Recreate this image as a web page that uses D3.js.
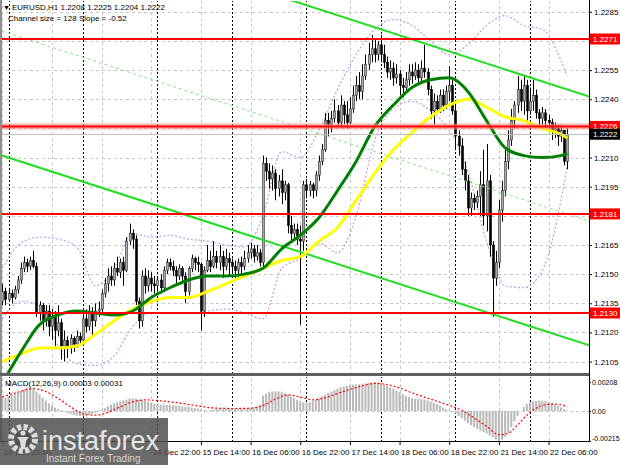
<!DOCTYPE html>
<html><head><meta charset="utf-8">
<script src="https://cdn.jsdelivr.net/npm/d3@7"></script>
<style>body{margin:0;background:#fff}svg{display:block}text{font-family:"Liberation Sans",Arial,sans-serif}</style>
</head><body><svg id="c" width="620" height="465"></svg>
<script>
// ---------- DATA ----------
const barOpen = [
1.2136,1.2141,1.2137,1.2140,1.2138,1.2142,1.2147,1.2153,1.2156,1.2154,
1.2157,1.2154,1.2130,1.2134,1.2126,1.2131,1.2123,1.2128,1.2121,1.2125,
1.2113,1.2116,1.2112,1.2117,1.2114,1.2118,1.2116,1.2127,1.2123,1.2130,
1.2126,1.2131,1.2132,1.2140,1.2145,1.2149,1.2147,1.2153,1.2151,1.2156,
1.2152,1.2167,1.2171,1.2168,1.2136,1.2126,1.2149,1.2144,1.2148,1.2145,
1.2144,1.2147,1.2143,1.2152,1.2156,1.2154,1.2152,1.2149,1.2153,1.2149,
1.2141,1.2153,1.2158,1.2156,1.2155,1.2131,1.2152,1.2157,1.2154,1.2159,
1.2156,1.2159,1.2154,1.2158,1.2156,1.2154,1.2152,1.2156,1.2154,1.2158,
1.2161,1.2163,1.2159,1.2161,1.2156,1.2207,1.2203,1.2199,1.2202,1.2194,
1.2198,1.2192,1.2196,1.2175,1.2171,1.2173,1.2168,1.2167,1.2196,1.2193,
1.2196,1.2193,1.2201,1.2208,1.2214,1.2229,1.2227,1.2230,1.2234,1.2228,
1.2237,1.2232,1.2228,1.2235,1.2242,1.2247,1.2244,1.2252,1.2258,1.2263,
1.2266,1.2263,1.2268,1.2263,1.2259,1.2254,1.2256,1.2251,1.2253,1.2247,
1.2246,1.2250,1.2254,1.2252,1.2255,1.2251,1.2256,1.2254,1.2245,1.2234,
1.2239,1.2235,1.2242,1.2237,1.2244,1.2247,1.2234,1.2221,1.2216,1.2204,
1.2198,1.2184,1.2189,1.2187,1.2190,1.2196,1.2180,1.2198,1.2165,1.2148,
1.2156,1.2183,1.2193,1.2208,1.2219,1.2229,1.2237,1.2245,1.2239,1.2247,
1.2234,1.2239,1.2242,1.2233,1.2230,1.2233,1.2229,1.2228,1.2224,1.2225,
1.2221,1.2224,1.2208];
const barHigh = [
1.2145,1.2143,1.2143,1.2142,1.2144,1.2149,1.2156,1.2159,1.2158,1.2159,
1.2162,1.2156,1.2136,1.2135,1.2134,1.2134,1.2132,1.2131,1.2134,1.2127,
1.2121,1.2118,1.2119,1.2118,1.2121,1.2120,1.2130,1.2132,1.2134,1.2133,
1.2135,1.2136,1.2142,1.2148,1.2153,1.2154,1.2156,1.2159,1.2158,1.2159,
1.2169,1.2176,1.2173,1.2170,1.2138,1.2152,1.2153,1.2152,1.2151,1.2149,
1.2149,1.2150,1.2154,1.2158,1.2158,1.2157,1.2154,1.2155,1.2154,1.2151,
1.2154,1.2160,1.2159,1.2159,1.2156,1.2154,1.2165,1.2162,1.2167,1.2162,
1.2165,1.2162,1.2163,1.2161,1.2158,1.2157,1.2158,1.2159,1.2162,1.2165,
1.2166,1.2165,1.2165,1.2163,1.2211,1.2210,1.2207,1.2206,1.2204,1.2201,
1.2204,1.2198,1.2197,1.2180,1.2176,1.2176,1.2175,1.2198,1.2199,1.2198,
1.2197,1.2203,1.2211,1.2217,1.2233,1.2233,1.2234,1.2240,1.2237,1.2242,
1.2239,1.2239,1.2241,1.2247,1.2252,1.2254,1.2258,1.2263,1.2269,1.2273,
1.2271,1.2270,1.2273,1.2268,1.2262,1.2260,1.2259,1.2258,1.2255,1.2251,
1.2254,1.2258,1.2258,1.2259,1.2258,1.2260,1.2268,1.2256,1.2247,1.2243,
1.2242,1.2245,1.2245,1.2247,1.2257,1.2250,1.2237,1.2224,1.2220,1.2208,
1.2201,1.2192,1.2191,1.2193,1.2203,1.2214,1.2217,1.2201,1.2167,1.2162,
1.2188,1.2198,1.2214,1.2224,1.2235,1.2239,1.2252,1.2250,1.2252,1.2250,
1.2246,1.2250,1.2245,1.2235,1.2236,1.2235,1.2232,1.2230,1.2228,1.2227,
1.2227,1.2224,1.2225];
const barLow = [
1.2134,1.2134,1.2136,1.2135,1.2137,1.2140,1.2145,1.2151,1.2151,1.2152,
1.2153,1.2128,1.2126,1.2121,1.2123,1.2118,1.2116,1.2113,1.2118,1.2106,
1.2105,1.2107,1.2109,1.2110,1.2112,1.2113,1.2114,1.2120,1.2121,1.2118,
1.2123,1.2128,1.2130,1.2138,1.2141,1.2144,1.2144,1.2149,1.2148,1.2144,
1.2151,1.2165,1.2163,1.2134,1.2122,1.2123,1.2140,1.2141,1.2141,1.2140,
1.2141,1.2140,1.2141,1.2150,1.2152,1.2149,1.2145,1.2147,1.2145,1.2135,
1.2139,1.2151,1.2152,1.2151,1.2121,1.2128,1.2151,1.2151,1.2153,1.2153,
1.2152,1.2148,1.2152,1.2149,1.2150,1.2148,1.2148,1.2150,1.2152,1.2156,
1.2158,1.2156,1.2157,1.2154,1.2154,1.2198,1.2194,1.2193,1.2188,1.2190,
1.2186,1.2188,1.2171,1.2166,1.2167,1.2165,1.2124,1.2162,1.2189,1.2190,
1.2189,1.2190,1.2198,1.2206,1.2213,1.2221,1.2223,1.2228,1.2226,1.2225,
1.2227,1.2225,1.2227,1.2233,1.2239,1.2240,1.2240,1.2250,1.2255,1.2259,
1.2259,1.2260,1.2259,1.2256,1.2251,1.2250,1.2247,1.2248,1.2242,1.2241,
1.2244,1.2247,1.2248,1.2250,1.2248,1.2249,1.2251,1.2242,1.2230,1.2227,
1.2233,1.2233,1.2234,1.2235,1.2239,1.2232,1.2214,1.2211,1.2201,1.2193,
1.2180,1.2180,1.2183,1.2184,1.2180,1.2175,1.2172,1.2159,1.2128,1.2144,
1.2153,1.2177,1.2190,1.2204,1.2216,1.2225,1.2233,1.2234,1.2232,1.2229,
1.2232,1.2234,1.2230,1.2226,1.2227,1.2225,1.2223,1.2219,1.2220,1.2216,
1.2218,1.2206,1.2204];
const barClose = [
1.2141,1.2137,1.2140,1.2138,1.2142,1.2147,1.2153,1.2156,1.2154,1.2157,
1.2154,1.2130,1.2134,1.2126,1.2131,1.2123,1.2128,1.2121,1.2125,1.2113,
1.2116,1.2112,1.2117,1.2114,1.2118,1.2116,1.2127,1.2123,1.2130,1.2126,
1.2131,1.2132,1.2140,1.2145,1.2149,1.2147,1.2153,1.2151,1.2156,1.2152,
1.2167,1.2171,1.2168,1.2136,1.2126,1.2149,1.2144,1.2148,1.2145,1.2144,
1.2147,1.2143,1.2152,1.2156,1.2154,1.2152,1.2149,1.2153,1.2149,1.2141,
1.2153,1.2158,1.2156,1.2155,1.2131,1.2152,1.2157,1.2154,1.2159,1.2156,
1.2159,1.2154,1.2158,1.2156,1.2154,1.2152,1.2156,1.2154,1.2158,1.2161,
1.2163,1.2159,1.2161,1.2156,1.2207,1.2203,1.2199,1.2202,1.2194,1.2198,
1.2192,1.2196,1.2175,1.2171,1.2173,1.2168,1.2167,1.2196,1.2193,1.2196,
1.2193,1.2201,1.2208,1.2214,1.2229,1.2227,1.2230,1.2234,1.2228,1.2237,
1.2232,1.2228,1.2235,1.2242,1.2247,1.2244,1.2252,1.2258,1.2263,1.2266,
1.2263,1.2268,1.2263,1.2259,1.2254,1.2256,1.2251,1.2253,1.2247,1.2246,
1.2250,1.2254,1.2252,1.2255,1.2251,1.2256,1.2254,1.2245,1.2234,1.2239,
1.2235,1.2242,1.2237,1.2244,1.2247,1.2234,1.2221,1.2216,1.2204,1.2198,
1.2184,1.2189,1.2187,1.2190,1.2196,1.2180,1.2198,1.2165,1.2148,1.2156,
1.2183,1.2193,1.2208,1.2219,1.2229,1.2237,1.2245,1.2239,1.2247,1.2234,
1.2239,1.2242,1.2233,1.2230,1.2233,1.2229,1.2228,1.2224,1.2225,1.2221,
1.2224,1.2208,1.2222];

// indicator samples (bar index -> value)
const maBars = [0,6,12,18,24,30,36,42,48,54,60,66,72,78,84,90,96,102,108,114,120,126,132,138,144,150,156,162,168,174,180,182];
const maGreen = [1.2094,1.2110,1.2124,1.2129,1.2131,1.2130,1.2129,1.2131,1.2138,1.2143,1.2147,1.2149,1.2149,1.2150,1.2153,1.2163,1.2170,1.2179,1.2193,1.2208,1.2226,1.2237,1.2246,1.2250,1.2251,1.2244,1.2229,1.2215,1.2211,1.2210,1.2211,1.2212];
const maYellow = [1.2105,1.2109,1.2112,1.2112,1.2113,1.2119,1.2126,1.2132,1.2136,1.2138,1.2138,1.2141,1.2145,1.2149,1.2153,1.2157,1.2159,1.2167,1.2174,1.2188,1.2202,1.2214,1.2223,1.2231,1.2237,1.2240,1.2236,1.2231,1.2229,1.2225,1.2222,1.2220];
const bbUpper = [1.2153,1.2166,1.2169,1.2168,1.2164,1.2144,1.2153,1.2171,1.2169,1.2170,1.2168,1.2167,1.2165,1.2164,1.2180,1.2213,1.2210,1.2224,1.2245,1.2263,1.2276,1.2281,1.2278,1.2270,1.2263,1.2268,1.2278,1.2283,1.2278,1.2276,1.2260,1.2252];
const bbLower = [1.2127,1.2136,1.2134,1.2113,1.2104,1.2103,1.2108,1.2123,1.2130,1.2130,1.2130,1.2131,1.2132,1.2130,1.2127,1.2153,1.2158,1.2166,1.2161,1.2180,1.2219,1.2235,1.2239,1.2234,1.2224,1.2203,1.2167,1.2144,1.2143,1.2152,1.2188,1.2206];

// regression channel: [bar, price] anchors
const channelUpper = [[0,1.2339],[182,1.2245]];
const channelMiddle = [[0,1.2275],[182,1.2181]];
const channelLower = [[0,1.2211],[182,1.2117]];

const levelPrices = [1.2271,1.2226,1.2181,1.2130];
const lastPrice = 1.2222;
const priceTicks = [1.2285,1.2255,1.2240,1.2210,1.2195,1.2165,1.2150,1.2135,1.2120,1.2105];
const gridPrices = [1.2285,1.2270,1.2255,1.2240,1.2225,1.2210,1.2195,1.2180,1.2165,1.2150,1.2135,1.2120,1.2105];
const daySeparators = [2,26,50,74,98,122,146,170];
const gridBars = [0,16,32,48,64,80,96,112,128,144,160,176];
const timeTickBars = [0,48,64,80,96,112,128,144,160,176];
const timeTickLabels = ["10 Dec 22:00","14 Dec 22:00","15 Dec 14:00","16 Dec 06:00","16 Dec 22:00","17 Dec 14:00","18 Dec 06:00","18 Dec 22:00","21 Dec 14:00","22 Dec 06:00"];

const macdHist = [
0.00090,0.00095,0.00105,0.00115,0.00125,0.00135,0.00145,0.00155,0.00165,0.00165,
0.00160,0.00140,0.00120,0.00095,0.00075,0.00055,0.00040,0.00025,0.00015,0.00005,
-0.00005,-0.00015,-0.00022,-0.00028,-0.00033,-0.00036,-0.00038,-0.00036,-0.00030,-0.00022,
-0.00012,-0.00003,0.00008,0.00020,0.00032,0.00045,0.00055,0.00062,0.00070,0.00076,
0.00082,0.00088,0.00092,0.00088,0.00082,0.00080,0.00072,0.00065,0.00058,0.00052,
0.00048,0.00046,0.00045,0.00044,0.00042,0.00040,0.00038,0.00035,0.00032,0.00030,
0.00028,0.00025,0.00022,0.00018,0.00012,0.00006,0.00004,0.00006,0.00010,0.00014,
0.00018,0.00017,0.00016,0.00018,0.00020,0.00019,0.00017,0.00018,0.00019,0.00021,
0.00024,0.00027,0.00032,0.00040,0.00110,0.00125,0.00135,0.00140,0.00142,0.00140,
0.00138,0.00130,0.00118,0.00105,0.00092,0.00080,0.00070,0.00062,0.00060,0.00062,
0.00070,0.00080,0.00092,0.00105,0.00118,0.00130,0.00140,0.00150,0.00160,0.00170,
0.00175,0.00180,0.00185,0.00188,0.00190,0.00192,0.00195,0.00197,0.00200,0.00203,
0.00208,0.00205,0.00200,0.00192,0.00182,0.00170,0.00158,0.00145,0.00135,0.00122,
0.00110,0.00100,0.00092,0.00088,0.00086,0.00084,0.00082,0.00076,0.00068,0.00060,
0.00050,0.00038,0.00026,0.00014,0.00005,-0.00005,-0.00018,-0.00035,-0.00052,-0.00070,
-0.00088,-0.00102,-0.00115,-0.00128,-0.00140,-0.00150,-0.00162,-0.00175,-0.00190,-0.00205,
-0.00215,-0.00205,-0.00185,-0.00155,-0.00115,-0.00075,-0.00035,0.00000,0.00030,0.00050,
0.00062,0.00070,0.00074,0.00075,0.00074,0.00070,0.00064,0.00056,0.00046,0.00036,
0.00025,0.00014,0.00003];
const signalBars = [0,5,10,14,18,22,26,30,34,38,42,46,50,56,62,68,74,80,84,88,92,96,100,104,108,112,116,120,124,128,132,136,140,144,148,152,156,160,163,166,169,172,175,178,182];
const signalVals = [0.00100,0.00135,0.00160,0.00140,0.00090,0.00030,-0.00020,-0.00030,-0.00010,0.00030,0.00065,0.00080,0.00075,0.00060,0.00040,0.00022,0.00018,0.00020,0.00040,0.00085,0.00115,0.00100,0.00080,0.00095,0.00125,0.00155,0.00180,0.00198,0.00190,0.00165,0.00130,0.00100,0.00070,0.00040,0.00005,-0.00050,-0.00110,-0.00170,-0.00160,-0.00100,-0.00030,0.00020,0.00045,0.00050,0.00031];
const macdTicks = [0.00208,0.00,-0.00215];
const macdTickLabels = ["0.00208","0.00","-0.00215"];

// ---------- DRAW ----------
const svg = d3.select("#c");
const AX = 589, MAIN_T = 1, MAIN_B = 373, MACD_T = 377, MACD_B = 441;
const x = d3.scaleLinear().domain([0,182]).range([2.3,567.2]);
const y = d3.scaleLinear().domain([1.2130,1.2271]).range([313,39]);
const ym = d3.scaleLinear().domain([-0.00215,0.00208]).range([441,382]);

const defs = svg.append("defs");
defs.append("clipPath").attr("id","cm").append("rect").attr("x",0).attr("y",MAIN_T).attr("width",AX).attr("height",MAIN_B-MAIN_T);
defs.append("clipPath").attr("id","cd").append("rect").attr("x",0).attr("y",MACD_T).attr("width",AX).attr("height",MACD_B-MACD_T);

svg.append("rect").attr("width",620).attr("height",465).attr("fill","#fff");
const main = svg.append("g").attr("clip-path","url(#cm)");
const macd = svg.append("g").attr("clip-path","url(#cd)");

// grid
main.selectAll(".hg").data(gridPrices).join("line")
  .attr("x1",0).attr("x2",AX).attr("y1",d=>Math.round(y(d))+0.5).attr("y2",d=>Math.round(y(d))+0.5)
  .attr("stroke","#c8c8c8").attr("stroke-dasharray","3,3");
[main,macd].forEach(g=>{
  g.selectAll(".vg").data(gridBars).join("line")
   .attr("x1",d=>Math.round(x(d))+0.5).attr("x2",d=>Math.round(x(d))+0.5).attr("y1",0).attr("y2",MACD_B)
   .attr("stroke","#c8c8c8").attr("stroke-dasharray","3,3");
});
macd.append("line").attr("x1",0).attr("x2",AX).attr("y1",Math.round(ym(0))+0.5).attr("y2",Math.round(ym(0))+0.5)
  .attr("stroke","#c8c8c8").attr("stroke-dasharray","3,3");
// day separators
[main,macd].forEach(g=>{
  g.selectAll(".ds").data(daySeparators).join("line")
   .attr("x1",d=>Math.round(x(d))+0.5).attr("x2",d=>Math.round(x(d))+0.5).attr("y1",0).attr("y2",MACD_B)
   .attr("stroke","#000").attr("stroke-dasharray","2,2");
});

// MACD histogram
const bars = d3.range(barClose.length);
macd.selectAll(".mh").data(bars).join("rect")
  .attr("x",i=>x(i)-1).attr("width",2)
  .attr("y",i=>Math.min(ym(macdHist[i]),ym(0))).attr("height",i=>Math.abs(ym(macdHist[i])-ym(0)))
  .attr("fill","#b8b8b8");
macd.append("path").datum(signalBars.map((b,k)=>[b,signalVals[k]]))
  .attr("d",d3.line().x(d=>x(d[0])).y(d=>ym(d[1])).curve(d3.curveMonotoneX))
  .attr("fill","none").attr("stroke","#ff0000").attr("stroke-width",1.2).attr("stroke-dasharray","2,2");

// Bollinger bands
[bbUpper,bbLower].forEach(arr=>{
  main.append("path").datum(maBars.map((b,k)=>[b,arr[k]]))
   .attr("d",d3.line().x(d=>x(d[0])).y(d=>y(d[1])).curve(d3.curveMonotoneX))
   .attr("fill","none").attr("stroke","#c39be0").attr("stroke-width",1.2).attr("stroke-dasharray","2,2");
});

// candles
const cg = main.append("g");
cg.selectAll(".wk").data(bars).join("line")
  .attr("x1",i=>Math.round(x(i))+0.5).attr("x2",i=>Math.round(x(i))+0.5)
  .attr("y1",i=>y(barHigh[i])).attr("y2",i=>y(barLow[i])).attr("stroke","#000");
cg.selectAll(".bd").data(bars).join("rect")
  .attr("x",i=>Math.round(x(i))-0.5).attr("width",2)
  .attr("y",i=>y(Math.max(barOpen[i],barClose[i])))
  .attr("height",i=>Math.max(1,Math.abs(y(barOpen[i])-y(barClose[i]))))
  .attr("fill",i=>barClose[i]>=barOpen[i]?"#a8a8a8":"#000")
  .attr("stroke",i=>barClose[i]>=barOpen[i]?"#303030":"#000").attr("stroke-width",0.6);

// channel lines
function chanLine(a){
  const s=(a[1][1]-a[0][1])/(a[1][0]-a[0][0]);
  const b0=-2, b1=195;
  return [[b0,a[0][1]+s*(b0-a[0][0])],[b1,a[0][1]+s*(b1-a[0][0])]];
}
const cl = d3.line().x(d=>x(d[0])).y(d=>y(d[1]));
main.append("path").attr("d",cl(chanLine(channelMiddle))).attr("stroke","#77ee77").attr("stroke-width",1).attr("stroke-dasharray","3,3").attr("fill","none");
main.append("path").attr("d",cl(chanLine(channelUpper))).attr("stroke","#22dd22").attr("stroke-width",2).attr("fill","none");
main.append("path").attr("d",cl(chanLine(channelLower))).attr("stroke","#22dd22").attr("stroke-width",2).attr("fill","none");

// moving averages
const ml = d3.line().x(d=>x(d[0])).y(d=>y(d[1])).curve(d3.curveMonotoneX);
main.append("path").datum(maBars.map((b,k)=>[b,maYellow[k]])).attr("d",ml).attr("fill","none").attr("stroke","#ffff00").attr("stroke-width",3);
main.append("path").datum(maBars.map((b,k)=>[b,maGreen[k]])).attr("d",ml).attr("fill","none").attr("stroke","#008000").attr("stroke-width",3);

// bid line + levels
main.append("line").attr("x1",0).attr("x2",AX).attr("y1",Math.round(y(lastPrice))+0.5).attr("y2",Math.round(y(lastPrice))+0.5).attr("stroke","#c0c0c0");
main.append("line").attr("x1",0).attr("x2",AX).attr("y1",y(levelPrices[1])).attr("y2",y(levelPrices[1])).attr("stroke","#ff8080").attr("stroke-opacity",0.6).attr("stroke-width",6);
main.selectAll(".lv").data(levelPrices).join("line")
  .attr("x1",0).attr("x2",AX).attr("y1",d=>y(d)).attr("y2",d=>y(d))
  .attr("stroke","#ff0000").attr("stroke-width",2);

// frames
svg.append("line").attr("x1",1).attr("x2",1).attr("y1",0).attr("y2",MACD_B).attr("stroke","#909090").attr("stroke-width",2);
svg.append("rect").attr("x",0).attr("y",373).attr("width",AX).attr("height",3).attr("fill","#606060");
svg.append("line").attr("x1",AX+0.5).attr("x2",AX+0.5).attr("y1",0).attr("y2",MACD_B).attr("stroke","#000");
svg.append("line").attr("x1",0).attr("x2",AX+1).attr("y1",MACD_B+0.5).attr("y2",MACD_B+0.5).attr("stroke","#000");

// right price axis
const ra = svg.append("g").attr("transform",`translate(${AX},0)`)
  .call(d3.axisRight(y).tickValues(priceTicks).tickSize(3).tickFormat(d3.format(".4f")));
ra.select(".domain").remove();
ra.selectAll("text").attr("font-size",8).attr("fill","#000").attr("x",5).attr("font-family","Liberation Sans, Arial, sans-serif");
ra.selectAll("line").attr("stroke","#000");

// level price labels
const lg = svg.append("g");
levelPrices.forEach(p=>{
  lg.append("rect").attr("x",AX+1).attr("y",y(p)-5.5).attr("width",31).attr("height",11).attr("fill","#ff0000");
  lg.append("text").attr("x",AX+4).attr("y",y(p)+3).attr("font-size",8).attr("fill","#fff").text(d3.format(".4f")(p));
});
lg.append("rect").attr("x",AX+1).attr("y",y(lastPrice)-5.5).attr("width",31).attr("height",11).attr("fill","#000");
lg.append("text").attr("x",AX+4).attr("y",y(lastPrice)+3).attr("font-size",8).attr("fill","#fff").text(d3.format(".4f")(lastPrice));

// MACD axis
const ma = svg.append("g").attr("transform",`translate(${AX},0)`)
  .call(d3.axisRight(ym).tickValues(macdTicks).tickSize(2).tickFormat((d,i)=>macdTickLabels[i]));
ma.select(".domain").remove();
ma.selectAll("text").attr("font-size",7).attr("fill","#000").attr("x",3).attr("font-family","Liberation Sans, Arial, sans-serif");
ma.selectAll(".tick").filter((d,i)=>i===2).select("text").attr("dy","-0.1em");
ma.selectAll("line").attr("stroke","#000");

// time axis
const ta = svg.append("g").attr("transform",`translate(0,${MACD_B})`)
  .call(d3.axisBottom(x).tickValues(timeTickBars).tickSize(4).tickFormat((d,i)=>timeTickLabels[i]));
ta.select(".domain").remove();
ta.selectAll("text").attr("font-size",8).attr("fill","#000").attr("text-anchor","start").attr("dx",1).attr("y",8).attr("font-family","Liberation Sans, Arial, sans-serif");
ta.selectAll("line").attr("stroke","#000");

// header texts
svg.append("text").attr("x",3).attr("y",10).attr("font-size",7).text("▼");
svg.append("text").attr("x",12).attr("y",10).attr("font-size",8).text("EURUSD,H1  1.2208 1.2225 1.2204 1.2222");
svg.append("text").attr("x",8).attr("y",21).attr("font-size",8).text("Channel size = 128 Slope = -0.52");
svg.append("text").attr("x",5).attr("y",386).attr("font-size",8).text("MACD(12,26,9) 0.00003 0.00031");

// watermark logo
const lo = svg.append("g");
lo.append("rect").attr("x",0).attr("y",418).attr("width",168).attr("height",47).attr("fill","#505050").attr("fill-opacity",0.85);
lo.append("circle").attr("cx",23).attr("cy",439).attr("r",12).attr("fill","none").attr("stroke","#dcdcdc").attr("stroke-width",6).attr("stroke-dasharray","4,2.3");
lo.append("circle").attr("cx",23).attr("cy",439).attr("r",8.5).attr("fill","#505050");
lo.append("circle").attr("cx",23).attr("cy",433).attr("r",2.6).attr("fill","#dcdcdc");
lo.append("path").attr("d","M17,437 L29,437 L26,441 L25,449 L21,449 L20,441 Z").attr("fill","#dcdcdc");
lo.append("text").attr("x",42).attr("y",450).attr("font-size",27).attr("fill","#e6e6e6").text("instaforex");
lo.append("text").attr("x",46).attr("y",462).attr("font-size",10).attr("fill","#d8d8d8").text("Instant Forex Trading");
</script></body></html>
